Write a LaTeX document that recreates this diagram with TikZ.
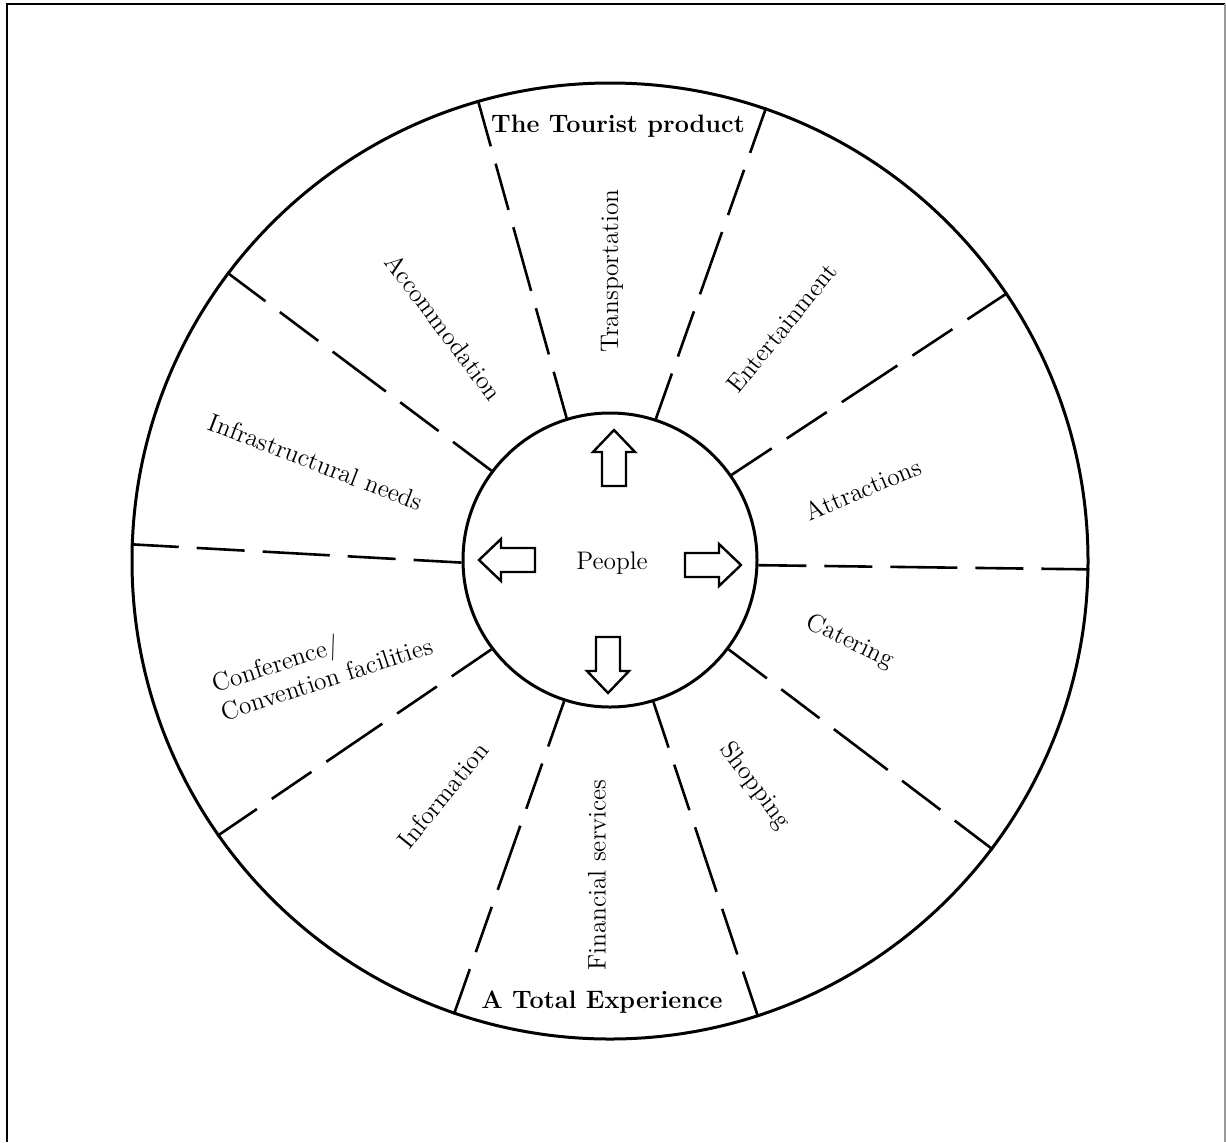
\documentclass[tikz,border=0pt]{standalone}
\usepackage{fontspec}
\usetikzlibrary{calc}
\begin{document}
\begin{tikzpicture}[x=0.5pt,y=-0.5pt,
  ring/.style={circle, draw, line width=1.5pt, inner sep=0pt},
  spoke/.style={line width=1.3pt, dash pattern=on 24pt off 9pt},
  sector/.style={font=\fontsize{12.7}{15}\selectfont, inner sep=1pt},
  heading/.style={font=\bfseries\fontsize{12.6}{15}\selectfont, inner sep=1pt},
  blockarrow/.pic={\draw[line width=1.2pt, line join=miter, fill=white]
      (0,-12) -- (34,-12) -- (34,-21) -- (56,0) -- (34,21) -- (34,12) -- (0,12) -- cycle;}
]
\useasboundingbox (0,0) rectangle (1226,1142);

% frame
\draw[line width=1.1pt] (7,1142) -- (7,4) -- (1225,4);
\draw[line width=0.8pt, black!40] (1225,4) -- (1225,1142);

% the two rings
\node[ring, minimum size=478pt] (O) at (610,561) {};
\node[ring, minimum size=147pt] (I) at (610,560) {};

% dashed spokes between the rings, dashed from both rings towards the middle
\foreach \a/\b [count=\k] in {107/106.4, 72.2/71.3, 35.4/34.9, -2/-1.4, -37.7/-37.2,
                              -73/-72.6, -108.4/-109.8, -143.5/-145.1, 181/178.7, 143.7/143.3}{
  \coordinate (m\k) at ($(I.\a)!0.5!(O.\b)$);
  \draw[spoke] (I.\a) -- (m\k);
  \draw[spoke] (O.\b) -- (m\k);
}

% centre
\node[sector] (people) at (612,563) {People};
\pic at (685,565) {blockarrow};
\pic[rotate=180] at (535,560) {blockarrow};
\pic[rotate=90] at (614,486) {blockarrow};
\pic[rotate=-90] at (608,637) {blockarrow};

% headings
\node[heading] (top) at (618,126) {The Tourist product};
\node[heading] (bottom) at (602,1002) {A Total Experience};

% sectors
\node[sector, rotate=90]  (transport) at (612,271) {Transportation};
\node[sector, rotate=51]  (entertain) at (782,328) {Entertainment};
\node[sector, rotate=23]  (attract)   at (863,489) {Attractions};
\node[sector, rotate=-26] (cater)     at (850,642) {Catering};
\node[sector, rotate=-53] (shop)      at (755,786) {Shopping};
\node[sector, rotate=90]  (finance)   at (597,875) {Financial services};
\node[sector, rotate=51]  (info)      at (443,795) {Information};
\node[sector, rotate=18, align=left] (conf) at (322,664) {Conference/\\Convention facilities};
\node[sector, rotate=-21] (infra)     at (316,462) {Infrastructural needs};
\node[sector, rotate=-53] (accom)     at (444,327) {Accommodation};
\end{tikzpicture}
\end{document}
